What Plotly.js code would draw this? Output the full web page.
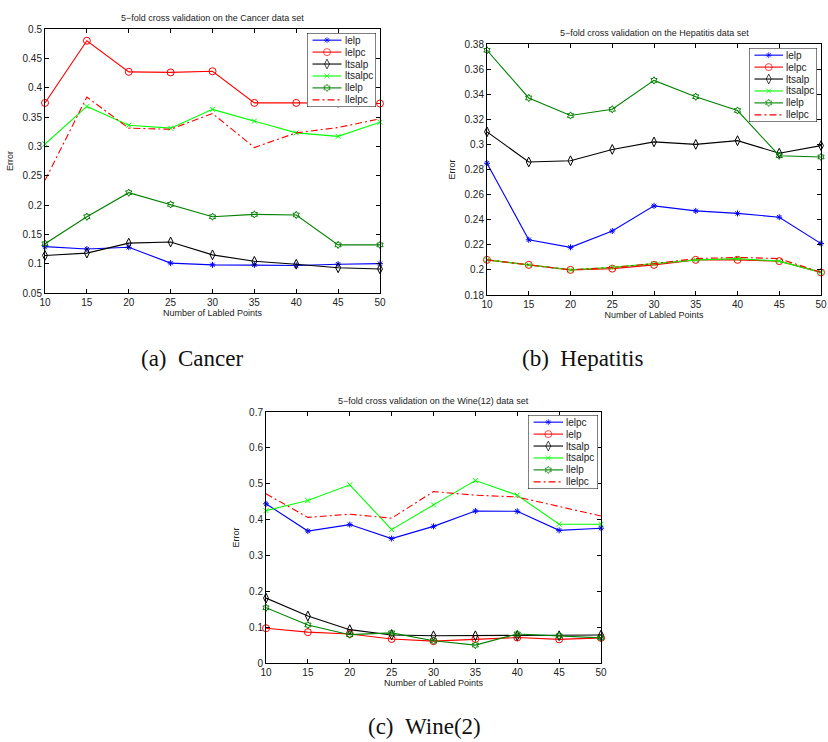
<!DOCTYPE html>
<html>
<head>
<meta charset="utf-8">
<script src="https://cdn.plot.ly/plotly-3.0.1.min.js"></script>
<style>
  html, body { margin: 0; padding: 0; background: #ffffff; }
  #chart { width: 828px; height: 742px; }
</style>
</head>
<body>
<div id="chart"></div>
<script>
// Number of labeled points used in each run
const labeled = [10, 15, 20, 25, 30, 35, 40, 45, 50];

// (a) Cancer data set
const cancerNames   = ['lelp', 'lelpc', 'ltsalp', 'ltsalpc', 'llelp', 'llelpc'];
const cancerLelp    = [0.129, 0.125, 0.128, 0.101, 0.098, 0.098, 0.097, 0.099, 0.100];
const cancerLelpc   = [0.374, 0.480, 0.427, 0.426, 0.428, 0.374, 0.374, 0.373, 0.373];
const cancerLtsalp  = [0.114, 0.118, 0.135, 0.137, 0.115, 0.104, 0.099, 0.093, 0.091];
const cancerLtsalpc = [0.304, 0.368, 0.336, 0.331, 0.363, 0.343, 0.323, 0.317, 0.341];
const cancerLlelp   = [0.134, 0.180, 0.221, 0.201, 0.180, 0.184, 0.183, 0.132, 0.132];
const cancerLlelpc  = [0.242, 0.384, 0.331, 0.329, 0.356, 0.298, 0.323, 0.332, 0.347];

// (b) Hepatitis data set
const hepNames   = ['lelp', 'lelpc', 'ltsalp', 'ltsalpc', 'llelp', 'llelpc'];
const hepLelp    = [0.285, 0.224, 0.218, 0.231, 0.251, 0.247, 0.245, 0.242, 0.221];
const hepLelpc   = [0.208, 0.204, 0.200, 0.201, 0.204, 0.208, 0.208, 0.207, 0.198];
const hepLtsalp  = [0.310, 0.286, 0.287, 0.296, 0.302, 0.300, 0.303, 0.293, 0.299];
const hepLtsalpc = [0.208, 0.204, 0.200, 0.202, 0.205, 0.208, 0.209, 0.207, 0.198];
const hepLlelp   = [0.375, 0.337, 0.323, 0.328, 0.351, 0.338, 0.327, 0.291, 0.290];
const hepLlelpc  = [0.208, 0.204, 0.200, 0.202, 0.205, 0.209, 0.210, 0.209, 0.198];

// (c) Wine(2) data set
const wineNames   = ['lelpc', 'lelp', 'ltsalp', 'ltsalpc', 'llelp', 'llelpc'];
const wineLelpc   = [0.444, 0.368, 0.386, 0.347, 0.381, 0.424, 0.423, 0.370, 0.376];
const wineLelp    = [0.097, 0.086, 0.081, 0.067, 0.061, 0.067, 0.071, 0.066, 0.070];
const wineLtsalp  = [0.181, 0.131, 0.093, 0.078, 0.076, 0.076, 0.076, 0.076, 0.078];
const wineLtsalpc = [0.425, 0.453, 0.497, 0.372, 0.441, 0.509, 0.468, 0.387, 0.387];
const wineLlelp   = [0.154, 0.106, 0.079, 0.084, 0.062, 0.050, 0.081, 0.076, 0.070];
const wineLlelpc  = [0.472, 0.406, 0.415, 0.404, 0.478, 0.468, 0.463, 0.436, 0.410];

const panelTitles = [
  '5\u2212fold cross validation on the Cancer data set',
  '5\u2212fold cross validation on the Hepatitis data set',
  '5\u2212fold cross validation on the Wine(12) data set'
];
const captions = ['(a)\u2002Cancer', '(b)\u2002Hepatitis', '(c)\u2002Wine(2)'];
const xLabel = 'Number of Labled Points';
const yLabel = 'Error';

// Line/marker style for each series slot (same order in every panel)
const styles = [
  { color: '#0000ff', symbol: 'asterisk-open', size: 5, dash: 'solid' },
  { color: '#ff0000', symbol: 'circle-open', size: 7, dash: 'solid' },
  { color: '#000000', symbol: 'diamond-tall-open', size: 7, dash: 'solid' },
  { color: '#00ff00', symbol: 'x-thin-open', size: 5, dash: 'solid' },
  { color: '#008000', symbol: 'hexagram-open', size: 5.5, dash: 'solid' },
  { color: '#ff0000', symbol: null, size: 0, dash: '7px,3px,2px,3px' }
];

const SANS = 'Liberation Sans, Arial, Helvetica, sans-serif';
const SERIF = 'Liberation Serif, Times New Roman, serif';
const W = 828, H = 742;

// Pixel boxes of the three axes and their legends
const panels = [
  { names: cancerNames, series: [cancerLelp, cancerLelpc, cancerLtsalp, cancerLtsalpc, cancerLlelp, cancerLlelpc],
    box: [45, 380, 29, 293], yRange: [0.05, 0.5], yStep: 0.05,
    legBox: [307, 376, 33, 107], caption: [192, 358] },
  { names: hepNames, series: [hepLelp, hepLelpc, hepLtsalp, hepLtsalpc, hepLlelp, hepLlelpc],
    box: [487, 821, 44, 295], yRange: [0.18, 0.38], yStep: 0.02,
    legBox: [749, 817, 48, 122], caption: [582, 358] },
  { names: wineNames, series: [wineLelpc, wineLelp, wineLtsalp, wineLtsalpc, wineLlelp, wineLlelpc],
    box: [266, 601, 412, 663], yRange: [0, 0.7], yStep: 0.1,
    legBox: [528, 598, 415, 489], caption: [425, 726] }
];

const xDom = (a, b) => [a / W, b / W];
const yDom = (top, bottom) => [1 - bottom / H, 1 - top / H];

const traces = [];
const layout = {
  width: W, height: H,
  margin: { l: 0, r: 0, t: 0, b: 0 },
  paper_bgcolor: '#ffffff',
  plot_bgcolor: 'rgba(0,0,0,0)',
  showlegend: false,
  hovermode: false,
  font: { family: SANS, size: 10, color: '#222222' },
  annotations: [],
  shapes: []
};

// Legend rows sit at y = 1..6 on a reversed axis
const LEG_Y = [6.6, 0.4];
const LEG_LINE = [0.08, 0.29, 0.50];
const LEG_TEXT_X = 0.52;

panels.forEach((p, k) => {
  const n = k + 1;
  const xa = n === 1 ? 'x' : 'x' + n;
  const ya = n === 1 ? 'y' : 'y' + n;
  const xKey = n === 1 ? 'xaxis' : 'xaxis' + n;
  const yKey = n === 1 ? 'yaxis' : 'yaxis' + n;

  layout[xKey] = {
    domain: xDom(p.box[0], p.box[1]), anchor: ya,
    range: [10, 50], tick0: 10, dtick: 5,
    ticks: 'inside', ticklen: 4, tickwidth: 1, tickcolor: '#000',
    showline: true, linecolor: '#000', linewidth: 1, mirror: 'ticks',
    showgrid: false, zeroline: false, fixedrange: true,
    tickfont: { family: SANS, size: 10, color: '#222' },
    title: { text: xLabel, font: { family: SANS, size: 9, color: '#222' }, standoff: 2 }
  };
  layout[yKey] = {
    domain: yDom(p.box[2], p.box[3]), anchor: xa,
    range: p.yRange, tick0: 0, dtick: p.yStep,
    ticks: 'inside', ticklen: 4, tickwidth: 1, tickcolor: '#000',
    showline: true, linecolor: '#000', linewidth: 1, mirror: 'ticks',
    showgrid: false, zeroline: false, fixedrange: true,
    tickfont: { family: SANS, size: 10, color: '#222' },
    title: { text: yLabel, font: { family: SANS, size: 9, color: '#222' }, standoff: 7 }
  };

  // Data series
  p.series.forEach((vals, i) => {
    const s = styles[i];
    const t = {
      type: 'scatter', x: labeled, y: vals, xaxis: xa, yaxis: ya,
      name: p.names[i], cliponaxis: false,
      mode: s.symbol ? 'lines+markers' : 'lines',
      line: { color: s.color, width: 1.1, dash: s.dash }
    };
    if (s.symbol) {
      t.marker = { symbol: s.symbol, size: s.size, color: s.color, line: { color: s.color, width: 1 } };
    }
    traces.push(t);
  });

  // Panel title
  layout.annotations.push({
    text: panelTitles[k], xref: xa + ' domain', yref: ya + ' domain',
    x: 0.5, y: 1, xanchor: 'center', yanchor: 'bottom', yshift: 4, showarrow: false,
    font: { family: SANS, size: 9, color: '#222' }
  });

  // Caption under the panel
  layout.annotations.push({
    text: captions[k], xref: 'paper', yref: 'paper',
    x: p.caption[0] / W, y: 1 - p.caption[1] / H, xanchor: 'center', yanchor: 'middle',
    showarrow: false, font: { family: SERIF, size: 23, color: '#111' }
  });

  // Legend drawn on its own small axis pair
  const ln = n + 3;
  const lxa = 'x' + ln, lya = 'y' + ln;
  layout['xaxis' + ln] = {
    domain: xDom(p.legBox[0], p.legBox[1]), anchor: lya, range: [0, 1],
    visible: false, fixedrange: true
  };
  layout['yaxis' + ln] = {
    domain: yDom(p.legBox[2], p.legBox[3]), anchor: lxa, range: LEG_Y,
    visible: false, fixedrange: true
  };
  layout.shapes.push({
    type: 'rect', xref: lxa, yref: lya, x0: 0, x1: 1, y0: LEG_Y[0], y1: LEG_Y[1],
    fillcolor: '#ffffff', line: { color: '#000', width: 1 }, layer: 'below'
  });
  p.names.forEach((name, i) => {
    const s = styles[i];
    const row = i + 1;
    const t = {
      type: 'scatter', x: LEG_LINE, y: [row, row, row], xaxis: lxa, yaxis: lya,
      cliponaxis: false, mode: s.symbol ? 'lines+markers' : 'lines',
      line: { color: s.color, width: 1.1, dash: s.dash }
    };
    if (s.symbol) {
      t.marker = { symbol: s.symbol, size: [0, s.size, 0], color: s.color, line: { color: s.color, width: 1 } };
    }
    traces.push(t);
    layout.annotations.push({
      text: name, xref: lxa, yref: lya, x: LEG_TEXT_X, y: row,
      xanchor: 'left', yanchor: 'middle', showarrow: false,
      font: { family: SANS, size: 10, color: '#222' }
    });
  });
});

Plotly.newPlot('chart', traces, layout, { staticPlot: true, displayModeBar: false });
</script>
</body>
</html>
